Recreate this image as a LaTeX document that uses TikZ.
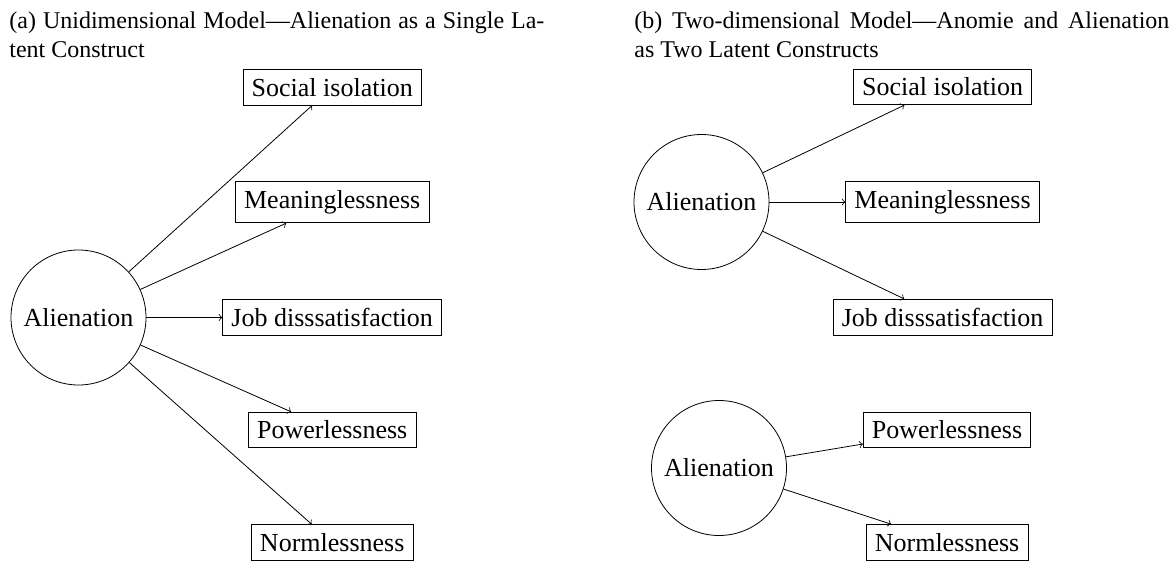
\documentclass[tikz,border=0pt]{standalone}
\usepackage{fontspec}
\setmainfont{Liberation Serif}
\usetikzlibrary{positioning}

\newcommand{\subcapfont}{\fontsize{12}{14.5}\selectfont}
\newcommand{\diagfont}{\fontsize{13}{15.6}\selectfont}

\tikzset{
	latent/.style={circle, draw, minimum size=67.5pt, inner sep=4.33pt, font=\diagfont},
	obs/.style={rectangle, draw, inner sep=4.33pt, font=\diagfont},
	subcap/.style={anchor=north west, inner sep=0pt, text width=267.5pt, align=justify, font=\subcapfont}
}

\begin{document}
\begin{tikzpicture}[x=0.5pt, y=-0.5pt, node distance=38pt, >=to]
			\useasboundingbox (0,0) rectangle (1176,561);
			
			% (a) one latent construct
			\node[subcap] (capA) at (9,11) {(a) Unidimensional Model—Alienation as a Single La-\linebreak tent Construct};
			\node[latent] (alienA) at (78.5,317.5) {Alienation};
			\node[obs, right=of alienA] (jobA) {Job disssatisfaction};
			\node[obs, above=of jobA] (meanA) {Meaninglessness};
			\node[obs, above=of meanA] (socA) {Social isolation};
			\node[obs, below=of jobA] (powA) {Powerlessness};
			\node[obs, below=of powA] (normA) {Normlessness};
			
			\draw (alienA) edge[->] (socA);
			\draw (alienA) edge[->] (meanA);
			\draw (alienA) edge[->] (jobA);
			\draw (alienA) edge[->] (powA);
			\draw (alienA) edge[->] (normA);
			
			% (b) two latent constructs
			\node[subcap] (capB) at (634,11) {(b) Two-dimensional Model—Anomie and Alienation\linebreak as Two Latent Constructs};
			\node[latent] (alienB) at (701.5,202) {Alienation};
			\node[obs, right=of alienB] (meanB) {Meaninglessness};
			\node[obs, above=of meanB] (socB) {Social isolation};
			\node[obs, below=of meanB] (jobB) {Job disssatisfaction};
			\node[latent] (alienC) at (719,468) {Alienation};
			\node[obs, right=of alienC, yshift=19pt] (powB) {Powerlessness};
			\node[obs, below=of powB] (normB) {Normlessness};
			
			\draw (alienB) edge[->] (socB);
			\draw (alienB) edge[->] (meanB);
			\draw (alienB) edge[->] (jobB);
			\draw (alienC) edge[->] (powB);
			\draw (alienC) edge[->] (normB);
			
		\end{tikzpicture}
\end{document}
